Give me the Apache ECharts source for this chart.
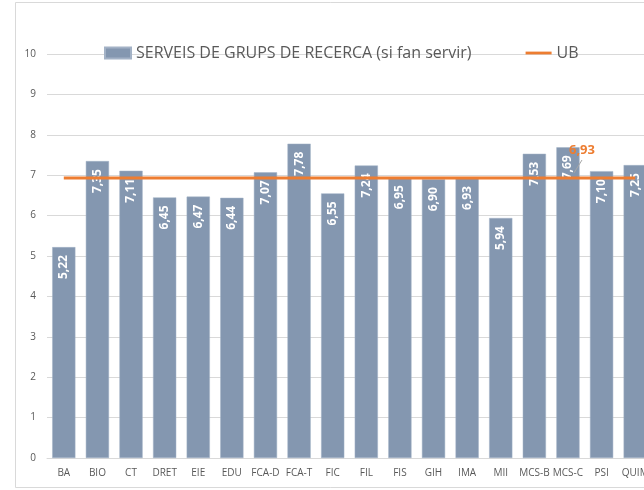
<!DOCTYPE html>
<html>
<head>
<meta charset="utf-8">
<script src="https://cdn.jsdelivr.net/npm/echarts@6/dist/echarts.min.js"></script>
<style>
  html, body { margin: 0; padding: 0; background: #fff; }
  #chart { width: 644px; height: 490px; }
</style>
</head>
<body>
<div id="chart"></div>
<script>
const categories = ['BA', 'BIO', 'CT', 'DRET', 'EIE', 'EDU', 'FCA-D', 'FCA-T', 'FIC', 'FIL',
    'FIS', 'GIH', 'IMA', 'MII', 'MCS-B', 'MCS-C', 'PSI', 'QUIM'];
const serveisValues = [5.22, 7.35, 7.11, 6.45, 6.47, 6.44, 7.07, 7.78, 6.55, 7.24,
    6.95, 6.90, 6.93, 5.94, 7.53, 7.69, 7.10, 7.25];
const ubValue = 6.93;
const ubLabelIndex = 15; // label shown near MCS-C
const yTicks = [0, 10, 1];

const ubValues = categories.map(function () { return ubValue; });

function fmt(v) {
    return v.toFixed(2).replace('.', ',');
}

const chart = echarts.init(document.getElementById('chart'));

const border = {
    type: 'rect',
    shape: { x: 15.5, y: 2.5, width: 700, height: 485 },
    style: { fill: 'none', stroke: '#D9D9D9', lineWidth: 1 },
    silent: true
};

const option = {
    backgroundColor: '#fff',
    animation: false,
    textStyle: { fontFamily: 'Open Sans, Noto Sans, sans-serif' },
    graphic: [border],
    legend: {
        top: 40,
        left: 99,
        itemGap: 54,
        itemWidth: 26,
        itemHeight: 11,
        textStyle: { color: '#595959', fontSize: 16 },
        data: [
            { name: 'SERVEIS DE GRUPS DE RECERCA (si fan servir)', icon: 'rect' },
            { name: 'UB', icon: 'path://M0,0 L28,0 L28,3 L0,3 Z' }
        ]
    },
    grid: {
        left: 47,
        width: 605,
        top: 54,
        bottom: 32,
        outerBoundsMode: 'none',
        containLabel: false
    },
    xAxis: {
        type: 'category',
        data: categories,
        axisLine: { lineStyle: { color: '#D9D9D9' } },
        axisTick: { show: false },
        axisLabel: { color: '#595959', fontSize: 10, margin: 10, interval: 0 }
    },
    yAxis: {
        type: 'value',
        min: yTicks[0],
        max: yTicks[1],
        interval: yTicks[2],
        axisLine: { show: false },
        axisTick: { show: false },
        axisLabel: { color: '#595959', fontSize: 10, margin: 11 },
        splitLine: { lineStyle: { color: '#D9D9D9' } }
    },
    series: [
        {
            name: 'SERVEIS DE GRUPS DE RECERCA (si fan servir)',
            type: 'bar',
            data: serveisValues,
            barCategoryGap: '31%',
            itemStyle: { color: '#8497B0', borderColor: '#A3B2C6', borderWidth: 0.5 },
            label: {
                show: true,
                position: 'insideTop',
                rotate: 90,
                align: 'right',
                verticalAlign: 'middle',
                distance: 8,
                color: '#fff',
                fontWeight: 'bold',
                fontSize: 12,
                formatter: function (p) { return fmt(p.value); }
            }
        },
        {
            name: 'UB',
            type: 'line',
            data: ubValues,
            symbol: 'circle',
            symbolSize: 0,
            showSymbol: true,
            lineStyle: { color: '#ED7D31', width: 3 },
            itemStyle: { color: '#ED7D31' },
            label: {
                show: true,
                position: 'top',
                color: '#ED7D31',
                fontWeight: 'bold',
                fontSize: 13,
                formatter: function (p) {
                    return p.dataIndex === ubLabelIndex ? fmt(p.value) : '';
                }
            },
            labelLayout: function (p) {
                if (p.dataIndex === ubLabelIndex) {
                    return { dx: 14, dy: -16 };
                }
                return {};
            },
            z: 5
        }
    ]
};

chart.setOption(option);

// leader line from the UB line to its label
const pt = chart.convertToPixel({ seriesIndex: 1 }, [ubLabelIndex, ubValue]);
chart.setOption({
    graphic: [border, {
        type: 'line',
        shape: { x1: pt[0] + 6, y1: pt[1] - 5, x2: pt[0] + 14, y2: pt[1] - 18 },
        style: { stroke: '#A6A6A6', lineWidth: 1 },
        z: 10,
        silent: true
    }]
});

window.addEventListener('resize', function () {
    chart.resize();
});
</script>
</body>
</html>
